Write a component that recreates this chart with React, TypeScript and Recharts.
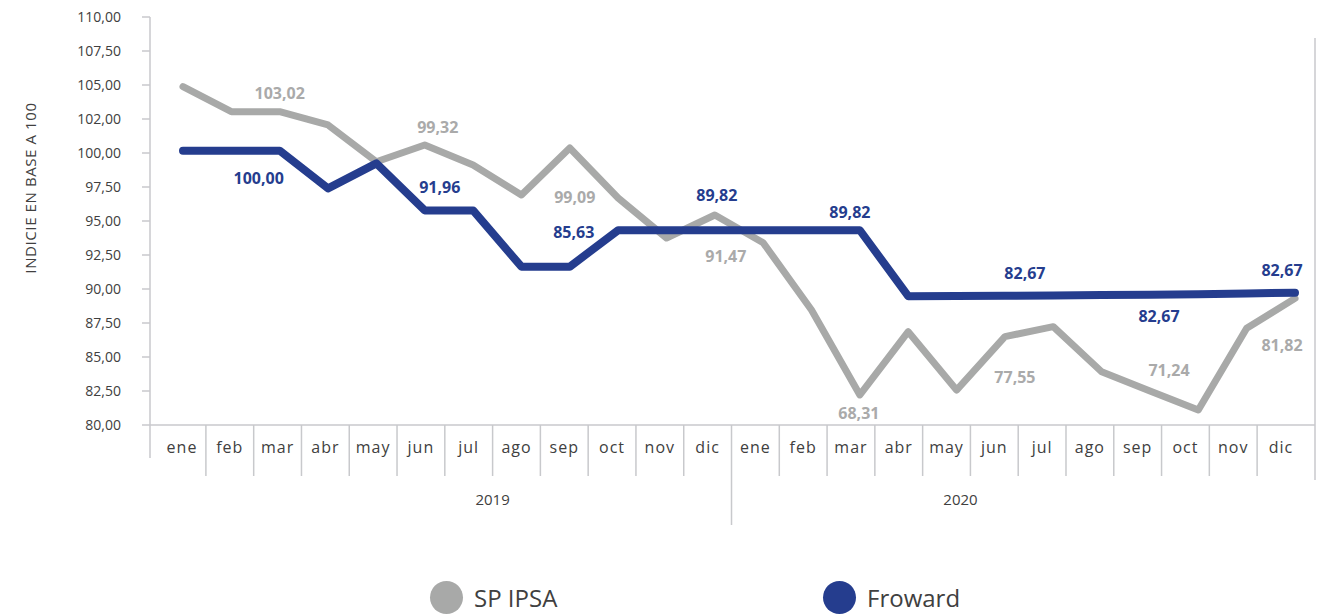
import { LineChart, Line, XAxis, YAxis } from 'recharts';

const months = ['ene', 'feb', 'mar', 'abr', 'may', 'jun', 'jul', 'ago', 'sep', 'oct', 'nov', 'dic', 'ene', 'feb', 'mar', 'abr', 'may', 'jun', 'jul', 'ago', 'sep', 'oct', 'nov', 'dic'];
const years = ['2019', '2020'];

const ipsa = [104.88, 103.04, 103.04, 102.06, 99.36, 100.59, 99.12, 96.91, 100.37, 96.69, 93.75, 95.44, 93.4, 88.46, 82.21, 86.86, 82.57, 86.5, 87.23, 83.92, 82.5, 81.1, 87.11, 89.31];
const froward = [100.17, 100.17, 100.17, 97.4, 99.24, 95.78, 95.78, 91.64, 91.64, 94.32, 94.32, 94.32, 94.32, 94.32, 94.32, 89.47, 89.48, 89.5, 89.52, 89.55, 89.58, 89.62, 89.67, 89.73];

const ipsaLabels = ['', '', '103,02', '', '', '99,32', '', '', '99,09', '', '', '91,47', '', '', '68,31', '', '', '77,55', '', '', '71,24', '', '', '81,82'];
const frowardLabels = ['', '', '100,00', '', '', '91,96', '', '', '85,63', '', '', '89,82', '', '', '89,82', '', '', '82,67', '', '', '82,67', '', '', '82,67'];

const yTicks = [80, 82.5, 85, 87.5, 90, 92.5, 95, 97.5, 100, 102.5, 105, 107.5, 110];
const yTickLabels = ['80,00', '82,50', '85,00', '87,50', '90,00', '92,50', '95,00', '97,50', '100,00', '102,00', '105,00', '107,50', '110,00'];

const data = months.map((m, i) => ({ month: m, ipsa: ipsa[i], froward: froward[i] }));

// label placement relative to the point (dx, dy)
const ipsaOffsets: Record<number, [number, number]> = {
  2: [0, -19], 5: [13, -18], 8: [5, 49], 11: [11, 41], 14: [-1, 18], 17: [10, 40], 20: [19, -21], 23: [-13, 47],
};
const frowardOffsets: Record<number, [number, number]> = {
  2: [-21, 27], 5: [15, -23], 8: [4, -35], 11: [2, -35], 14: [-10, -18], 17: [20, -23], 20: [9, 21], 23: [-13, -23],
};

const GRAY = '#a8a9a8';
const BLUE = '#253d8e';
const AXIS = '#c8c9cc';
const TEXT = '#404040';
const FONT = "'Open Sans', sans-serif";

const PLOT_LEFT = 150;
const PLOT_TOP = 17;
const PLOT_BOTTOM = 425;
const BORDER_RIGHT = 1315;
const STEP = 47.76;

const YTick = (props: any) => {
  const { x, y, payload } = props;
  const idx = yTicks.indexOf(payload.value);
  return (
    <text x={x} y={y} dy={5} textAnchor="end" fontSize={14} fill={TEXT} fontFamily={FONT}>
      {yTickLabels[idx]}
    </text>
  );
};

const MonthTick = (props: any) => {
  const { x, payload, index } = props;
  const left = x - STEP / 2;
  return (
    <g>
      <text x={x} y={PLOT_BOTTOM + 28} textAnchor="middle" fontSize={16} letterSpacing={1} fill={TEXT} fontFamily={FONT}>
        {payload.value}
      </text>
      {index === 0 && (
        <g stroke={AXIS} strokeWidth={1.5}>
          <line x1={PLOT_LEFT} x2={BORDER_RIGHT} y1={PLOT_BOTTOM} y2={PLOT_BOTTOM} />
          <line x1={PLOT_LEFT} x2={PLOT_LEFT} y1={PLOT_BOTTOM} y2={458} />
          <line x1={BORDER_RIGHT} x2={BORDER_RIGHT} y1={38} y2={480} />
        </g>
      )}
      {index > 0 && (
        <line x1={left} x2={left} y1={PLOT_BOTTOM} y2={index === 12 ? 525 : 476} stroke={AXIS} strokeWidth={1.5} />
      )}
      {index === 7 && (
        <text x={left} y={505} textAnchor="middle" fontSize={15} fill={TEXT} fontFamily={FONT}>{years[0]}</text>
      )}
      {index === 16 && (
        <text x={x + 14} y={505} textAnchor="middle" fontSize={15} fill={TEXT} fontFamily={FONT}>{years[1]}</text>
      )}
    </g>
  );
};

const YLabel = () => (
  <text x={36} y={188} transform="rotate(-90 36 188)" textAnchor="middle" fontSize={15} letterSpacing={0.6} fill={TEXT} fontFamily={FONT}>
    INDICIE EN BASE A 100
  </text>
);

const makeLabel = (texts: string[], offsets: Record<number, [number, number]>, color: string) => (props: any) => {
  const { x, y, index } = props;
  const t = texts[index];
  if (!t) return <g key={index} />;
  const [dx, dy] = offsets[index];
  return (
    <text key={index} x={x + dx} y={y + dy} textAnchor="middle" dominantBaseline="central" fontSize={16} fontWeight={700} fill={color} fontFamily={FONT}>
      {t}
    </text>
  );
};

const LegendItem = ({ left, color, text }: { left: number; color: string; text: string }) => (
  <div style={{ position: 'absolute', left, top: 581, display: 'flex', alignItems: 'center' }}>
    <div style={{ width: 33, height: 33, borderRadius: '50%', background: color }} />
    <span style={{ marginLeft: 11, fontSize: 24, color: TEXT, fontFamily: FONT }}>{text}</span>
  </div>
);

export default function App() {
  return (
    <div style={{ position: 'absolute', left: 0, top: 0, width: 1329, height: 616, background: '#fff', overflow: 'hidden' }}>
      <LineChart width={1329} height={616} data={data} margin={{ top: PLOT_TOP, right: 9, left: 90, bottom: 81 }}>
        <XAxis
          xAxisId="cat"
          dataKey="month"
          interval={0}
          height={110}
          axisLine={false}
          tickLine={false}
          padding={{ left: 32, right: 39 }}
          tick={<MonthTick />}
        />
        <XAxis xAxisId="data" dataKey="month" hide padding={{ left: 33, right: 25 }} />
        <YAxis
          domain={[80, 110]}
          ticks={yTicks}
          width={60}
          tickSize={8}
          tickMargin={21}
          axisLine={{ stroke: AXIS, strokeWidth: 1.5 }}
          tickLine={{ stroke: AXIS, strokeWidth: 1.5 }}
          tick={<YTick />}
          label={<YLabel />}
        />
        <Line
          xAxisId="data"
          type="linear"
          dataKey="ipsa"
          stroke={GRAY}
          strokeWidth={7}
          strokeLinejoin="round"
          strokeLinecap="round"
          dot={false}
          activeDot={false}
          isAnimationActive={false}
          label={makeLabel(ipsaLabels, ipsaOffsets, '#aaaaaa')}
        />
        <Line
          xAxisId="data"
          type="linear"
          dataKey="froward"
          stroke={BLUE}
          strokeWidth={8}
          strokeLinejoin="round"
          strokeLinecap="round"
          dot={false}
          activeDot={false}
          isAnimationActive={false}
          label={makeLabel(frowardLabels, frowardOffsets, BLUE)}
        />
      </LineChart>
      <LegendItem left={430} color={GRAY} text="SP IPSA" />
      <LegendItem left={823} color={BLUE} text="Froward" />
    </div>
  );
}
